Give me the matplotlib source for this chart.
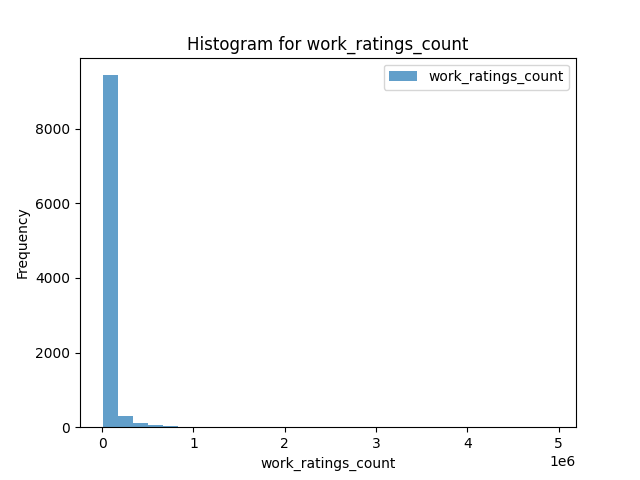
import numpy as np
import matplotlib
matplotlib.use('Agg')
import matplotlib.pyplot as plt

# histogram of work_ratings_count, 30 equal bins between min and max
x_min = 5510
x_max = 4942365
counts = [9430, 310, 120, 60, 30, 15, 10, 6, 5, 3,
          2, 2, 1, 1, 0, 1, 0, 0, 1, 0,
          0, 0, 0, 0, 0, 0, 0, 0, 0, 1]

edges = np.linspace(x_min, x_max, len(counts) + 1)

fig, ax = plt.subplots(figsize=(6.4, 4.8), dpi=100)
ax.hist(edges[:-1], bins=edges, weights=counts, alpha=0.7,
        label='work_ratings_count')
ax.set_title('Histogram for work_ratings_count')
ax.set_xlabel('work_ratings_count')
ax.set_ylabel('Frequency')
ax.legend(loc='upper right')

fig.savefig('out.png')
